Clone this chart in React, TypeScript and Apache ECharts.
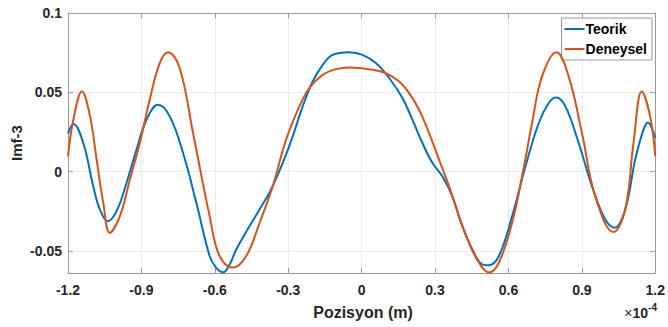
import React, { useEffect, useRef } from "react";
import * as echarts from "echarts";

// x in units of 1e-4 m
const teorikX = [-1.2, -1.178, -1.1376, -1.097, -1.0696, -1.038, -1.0015, -0.9607, -0.92, -0.8792, -0.832, -0.7843, -0.73, -0.6755, -0.6212, -0.594, -0.566, -0.54, -0.512, -0.458, -0.417, -0.37, -0.3224, -0.2817, -0.241, -0.2, -0.159, -0.1186, -0.0506, 0.0036, 0.058, 0.1125, 0.1667, 0.2075, 0.2483, 0.289, 0.3297, 0.3705, 0.4112, 0.452, 0.4928, 0.52, 0.561, 0.615, 0.6697, 0.7239, 0.7647, 0.7944, 0.8327, 0.887, 0.9412, 0.9956, 1.0337, 1.0772, 1.118, 1.1518, 1.1694, 1.2];
const teorikY = [0.0239, 0.030, 0.018, -0.0092, -0.0239, -0.0313, -0.025, -0.0071, 0.0138, 0.0327, 0.0421, 0.0348, 0.0118, -0.0197, -0.0533, -0.0608, -0.0636, -0.0588, -0.049, -0.0344, -0.0239, -0.0113, 0.0055, 0.0222, 0.0411, 0.0568, 0.0673, 0.0736, 0.0753, 0.0736, 0.0684, 0.059, 0.0464, 0.0327, 0.018, 0.0055, -0.003, -0.0155, -0.0344, -0.049, -0.0585, -0.0591, -0.0533, -0.0281, 0.0033, 0.0306, 0.0432, 0.0467, 0.0411, 0.018, -0.0092, -0.0302, -0.0354, -0.0239, 0.0075, 0.0264, 0.031, 0.0212];

const deneyselX = [-1.2, -1.178, -1.143, -1.11, -1.083, -1.056, -1.029, -0.988, -0.947, -0.9065, -0.866, -0.825, -0.791, -0.7435, -0.689, -0.6212, -0.5805, -0.526, -0.4716, -0.417, -0.3632, -0.3087, -0.2544, -0.2136, -0.159, -0.1048, -0.0506, 0.0444, 0.099, 0.1532, 0.194, 0.2347, 0.2755, 0.3162, 0.357, 0.3977, 0.4385, 0.4792, 0.52, 0.561, 0.615, 0.6558, 0.6966, 0.7373, 0.796, 0.846, 0.9004, 0.9547, 1.0296, 1.0772, 1.111, 1.1449, 1.179, 1.2];
const deneyselY = [0.0096, 0.0327, 0.0505, 0.0348, 0.0075, -0.0197, -0.0386, -0.0281, -0.005, 0.018, 0.0453, 0.0684, 0.0753, 0.0652, 0.0243, -0.0281, -0.0533, -0.0606, -0.0533, -0.0323, -0.0092, 0.0201, 0.0411, 0.0527, 0.061, 0.0646, 0.0656, 0.0642, 0.062, 0.0568, 0.0495, 0.039, 0.0243, 0.0075, -0.0092, -0.0281, -0.0449, -0.0574, -0.0637, -0.0574, -0.0323, -0.003, 0.0306, 0.06, 0.0753, 0.06, 0.0243, -0.0155, -0.0382, -0.0239, 0.018, 0.0505, 0.0348, 0.0096];

const seriesNames = ["Teorik", "Deneysel"];
const yTicks = [-0.05, 0, 0.05, 0.1];

const FONT = "'Liberation Sans', Arial, Helvetica, sans-serif";
const AXIS_GRAY = "#999999";
const GRID_GRAY = "#ebebeb";

const fmtX = (v: number) => (Math.abs(v) < 1e-9 ? "0" : v.toFixed(1));
const fmtY = (v: number) => (Math.abs(v) < 1e-9 ? "0" : String(parseFloat(v.toFixed(3))));

export default function App() {
  const ref = useRef<HTMLDivElement>(null);
  useEffect(() => {
    if (!ref.current) return;
    const chart = echarts.init(ref.current, undefined, { renderer: "svg" });
    const xCommon = {
      type: "value" as const,
      min: -1.2,
      max: 1.2,
      interval: 0.3,
    };
    const yCommon = {
      type: "value" as const,
      min: -0.064,
      max: 0.1,
    };
    chart.setOption({
      animation: false,
      backgroundColor: "#ffffff",
      grid: { left: 68, right: 11, top: 13, bottom: 54, containLabel: false },
      legend: {
        data: seriesNames,
        orient: "vertical",
        right: 16,
        top: 18,
        icon: "rect",
        itemWidth: 20,
        itemHeight: 2,
        itemGap: 4,
        padding: [3, 5, 3, 3],
        backgroundColor: "#ffffff",
        borderColor: AXIS_GRAY,
        borderWidth: 1,
        textStyle: { fontFamily: FONT, fontWeight: "bold", fontSize: 14, color: "#000", padding: [0, 0, 0, -4], lineHeight: 16 },
      },
      xAxis: [
        {
          ...xCommon,
          position: "bottom",
          axisLine: { show: true, onZero: false, lineStyle: { color: AXIS_GRAY, width: 1 } },
          axisTick: { show: true, inside: true, length: 5, lineStyle: { color: AXIS_GRAY } },
          axisLabel: {
            formatter: fmtX,
            margin: 10,
            fontFamily: FONT,
            fontWeight: "bold",
            fontSize: 14,
            color: "#262626",
          },
          splitLine: { show: true, lineStyle: { color: GRID_GRAY, width: 1 } },
        },
        {
          ...xCommon,
          position: "top",
          axisLine: { show: true, onZero: false, lineStyle: { color: AXIS_GRAY, width: 1 } },
          axisTick: { show: true, inside: true, length: 5, lineStyle: { color: AXIS_GRAY } },
          axisLabel: { show: false },
          splitLine: { show: false },
        },
      ],
      yAxis: [
        {
          ...yCommon,
          position: "left",
          axisLine: { show: true, onZero: false, lineStyle: { color: AXIS_GRAY, width: 1 } },
          axisTick: { show: true, inside: true, length: 5, customValues: yTicks, lineStyle: { color: AXIS_GRAY } },
          axisLabel: {
            customValues: yTicks,
            formatter: fmtY,
            margin: 6,
            fontFamily: FONT,
            fontWeight: "bold",
            fontSize: 14,
            color: "#262626",
          },
          splitLine: { show: true, lineStyle: { color: GRID_GRAY, width: 1 } },
        },
        {
          ...yCommon,
          position: "right",
          axisLine: { show: true, onZero: false, lineStyle: { color: AXIS_GRAY, width: 1 } },
          axisTick: { show: true, inside: true, length: 5, customValues: yTicks, lineStyle: { color: AXIS_GRAY } },
          axisLabel: { show: false, customValues: yTicks },
          splitLine: { show: false },
        },
      ],
      series: [
        {
          name: seriesNames[0],
          type: "line",
          data: teorikX.map((x, i) => [x, teorikY[i]]),
          smooth: 0.4,
          symbol: "none",
          lineStyle: { color: "#0072BD", width: 2 },
          itemStyle: { color: "#0072BD" },
          z: 3,
        },
        {
          name: seriesNames[1],
          type: "line",
          data: deneyselX.map((x, i) => [x, deneyselY[i]]),
          smooth: 0.4,
          symbol: "none",
          lineStyle: { color: "#D95319", width: 2 },
          itemStyle: { color: "#D95319" },
          z: 4,
        },
      ],
      graphic: [
        {
          type: "text",
          x: 16,
          y: 143,
          rotation: Math.PI / 2,
          style: {
            text: "Imf-3",
            fontFamily: FONT,
            fontWeight: "bold",
            fontSize: 15,
            fill: "#262626",
            align: "center",
            verticalAlign: "middle",
          },
        },
        {
          type: "text",
          x: 363,
          y: 312,
          style: {
            text: "Pozisyon (m)",
            fontFamily: FONT,
            fontWeight: "bold",
            fontSize: 16,
            fill: "#262626",
            align: "center",
            verticalAlign: "middle",
          },
        },
        {
          type: "text",
          x: 657,
          y: 320,
          style: {
            text: "{a|×}{b|10}{c|-4}",
            align: "right",
            verticalAlign: "bottom",
            rich: {
              a: { fontFamily: FONT, fontSize: 14, fill: "#262626", verticalAlign: "bottom" },
              b: { fontFamily: FONT, fontSize: 14, fontWeight: "bold", fill: "#262626", verticalAlign: "bottom" },
              c: { fontFamily: FONT, fontSize: 10, fontWeight: "bold", fill: "#262626", verticalAlign: "top", padding: [0, 0, 8, 0] },
            },
          },
        },
      ],
    });
    return () => chart.dispose();
  }, []);
  return <div ref={ref} style={{ position: "fixed", left: 0, top: 0, width: 668, height: 327 }} />;
}
